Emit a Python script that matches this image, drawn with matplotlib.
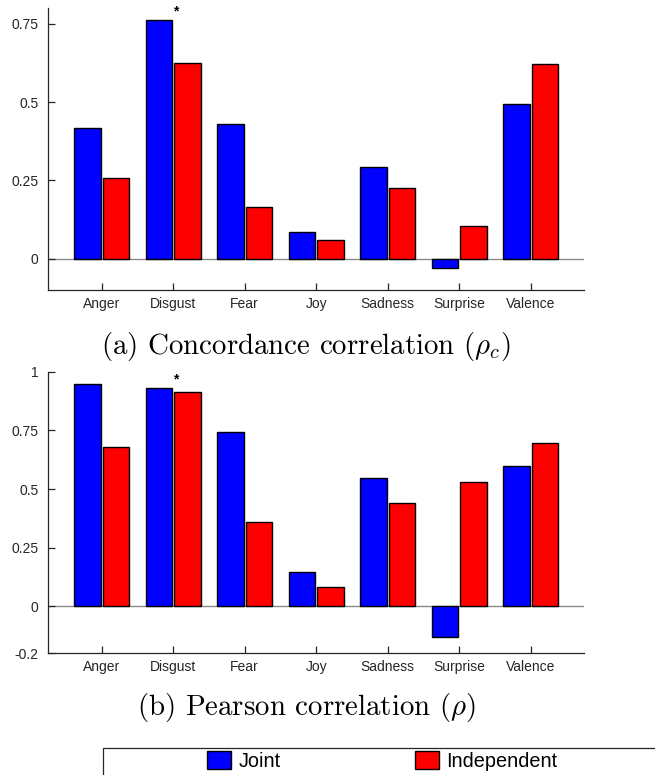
import numpy as np
import matplotlib
matplotlib.use("Agg")
import matplotlib.pyplot as plt
from matplotlib.patches import Patch, Rectangle

plt.rcParams['mathtext.fontset'] = 'cm'
plt.rcParams['font.family'] = ['Liberation Sans', 'DejaVu Sans']

# -------------------------------------------------------------------
# Correlation scores per emotion dimension
# -------------------------------------------------------------------
emotions = ["Anger", "Disgust", "Fear", "Joy", "Sadness", "Surprise", "Valence"]
series_names = ["Joint", "Independent"]

ccc_joint = [0.417, 0.762, 0.430, 0.085, 0.294, -0.031, 0.494]
ccc_indep = [0.259, 0.626, 0.165, 0.058, 0.225, 0.105, 0.621]

pearson_joint = [0.946, 0.930, 0.742, 0.148, 0.545, -0.131, 0.597]
pearson_indep = [0.680, 0.913, 0.361, 0.083, 0.442, 0.528, 0.697]

# significance marker: (category index, y position)
ccc_star = (1, 0.788)
pearson_star = (1, 0.967)

ccc_ticks = [0, 0.25, 0.5, 0.75]
ccc_ticklabels = ["0", "0.25", "0.5", "0.75"]
pearson_ticks = [-0.2, 0, 0.25, 0.5, 0.75, 1]
pearson_ticklabels = ["-0.2", "0", "0.25", "0.5", "0.75", "1"]

captions = [r"(a) Concordance correlation ($\rho_c$)",
            r"(b) Pearson correlation ($\rho$)"]

COLORS = ["#0000ff", "#ff0000"]
AXCOL = "#262626"


def draw_panel(ax, joint, indep, ylim, ticks, ticklabels, star):
    x = np.arange(1, len(emotions) + 1)
    w = 0.37
    ax.axhline(0, color="#8a8a8a", lw=1.0, zorder=1)
    ax.bar(x - 0.2, joint, w, color=COLORS[0], edgecolor="black", lw=1.0, zorder=2)
    ax.bar(x + 0.2, indep, w, color=COLORS[1], edgecolor="black", lw=1.0, zorder=2)
    ax.text(x[star[0]] + 0.04, star[1], "*", ha="center", va="center",
            fontsize=10, fontweight="bold", color="black")

    ax.set_xlim(0.25, 7.75)
    ax.set_ylim(*ylim)
    ax.set_xticks(x)
    ax.set_xticklabels(emotions)
    ax.set_yticks(ticks)
    ax.set_yticklabels(ticklabels)

    for s in ["top", "right"]:
        ax.spines[s].set_visible(False)
    for s in ["left", "bottom"]:
        ax.spines[s].set_color(AXCOL)
        ax.spines[s].set_linewidth(0.9)
    ax.tick_params(direction="in", length=5, width=0.9, color=AXCOL,
                   labelcolor=AXCOL, labelsize=10)
    ax.tick_params(axis="y", pad=7)
    ax.tick_params(axis="x", pad=5)


fig = plt.figure(figsize=(6.55, 7.75), dpi=100)
W, H = 655.0, 775.0

ax1 = fig.add_axes([48 / W, 1 - 290 / H, 536.3 / W, 282 / H])
draw_panel(ax1, ccc_joint, ccc_indep, (-0.1, 0.8), ccc_ticks, ccc_ticklabels, ccc_star)

ax2 = fig.add_axes([48 / W, 1 - 653.3 / H, 536.3 / W, 281.6 / H])
draw_panel(ax2, pearson_joint, pearson_indep, (-0.2, 1.0), pearson_ticks,
           pearson_ticklabels, pearson_star)

# subfigure captions
fig.text(306 / W, 1 - 346 / H, captions[0], ha="center", va="center",
         fontsize=20.8, family="cmr10")
fig.text(306 / W, 1 - 707 / H, captions[1], ha="center", va="center",
         fontsize=20.8, family="cmr10")

# shared legend, box runs off the page edge
fig.patches.append(Rectangle((102.6 / W, -0.1), 1.0, 0.1 + 1 - 748.3 / H,
                             transform=fig.transFigure, fill=False,
                             edgecolor=AXCOL, lw=0.9))
handles = [Patch(facecolor=c, edgecolor="black", lw=1.0) for c in COLORS]
fig.legend(handles, series_names, ncol=2, loc="upper left",
           bbox_to_anchor=(207 / W, 1 - 751 / H), frameon=False,
           fontsize=14.3, borderpad=0, borderaxespad=0,
           handlelength=1.2, handleheight=1.0, handletextpad=0.37,
           columnspacing=6.8)

fig.savefig("out.png", dpi=100)
